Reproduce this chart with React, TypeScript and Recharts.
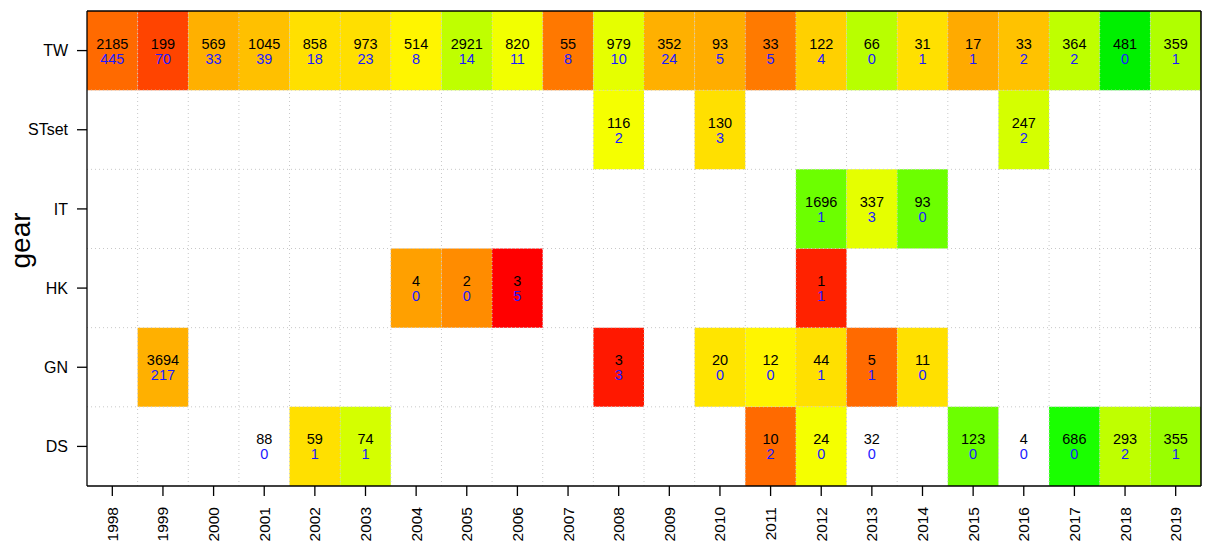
import React from 'react';
import {
  ScatterChart,
  Scatter,
  XAxis,
  YAxis,
  ReferenceArea,
  ReferenceLine,
} from 'recharts';

const years = ['1998','1999','2000','2001','2002','2003','2004','2005','2006','2007','2008','2009','2010','2011','2012','2013','2014','2015','2016','2017','2018','2019'];
// bottom to top
const gears = ['DS', 'GN', 'HK', 'IT', 'STset', 'TW'];

const _ = null;

const twTop = [2185,199,569,1045,858,973,514,2921,820,55,979,352,93,33,122,66,31,17,33,364,481,359];
const twBottom = [445,70,33,39,18,23,8,14,11,8,10,24,5,5,4,0,1,1,2,2,0,1];
const twColor = ['#FF6A00','#FF4400','#FFB000','#FFC000','#FFE000','#FFDF00','#FFF500','#BFFF00','#F2FF00','#FF7800','#E5FF00','#FFB000','#FFAD00','#FF7A00','#FFD000','#B8FF00','#FFE000','#FFAA00','#FFC200','#BFFF00','#00F000','#B0FF00'];

const stTop = [_,_,_,_,_,_,_,_,_,_,116,_,130,_,_,_,_,_,247,_,_,_];
const stBottom = [_,_,_,_,_,_,_,_,_,_,2,_,3,_,_,_,_,_,2,_,_,_];
const stColor = [_,_,_,_,_,_,_,_,_,_,'#F5FF00',_,'#FFE000',_,_,_,_,_,'#D4FF00',_,_,_];

const itTop = [_,_,_,_,_,_,_,_,_,_,_,_,_,_,1696,337,93,_,_,_,_,_];
const itBottom = [_,_,_,_,_,_,_,_,_,_,_,_,_,_,1,3,0,_,_,_,_,_];
const itColor = [_,_,_,_,_,_,_,_,_,_,_,_,_,_,'#6CFF00','#E5FF00','#6CFF00',_,_,_,_,_];

const hkTop = [_,_,_,_,_,_,4,2,3,_,_,_,_,_,1,_,_,_,_,_,_,_];
const hkBottom = [_,_,_,_,_,_,0,0,5,_,_,_,_,_,1,_,_,_,_,_,_,_];
const hkColor = [_,_,_,_,_,_,'#FFA000','#FF8C00','#FF0000',_,_,_,_,_,'#FF2200',_,_,_,_,_,_,_];

const gnTop = [_,3694,_,_,_,_,_,_,_,_,3,_,20,12,44,5,11,_,_,_,_,_];
const gnBottom = [_,217,_,_,_,_,_,_,_,_,3,_,0,0,1,1,0,_,_,_,_,_];
const gnColor = [_,'#FFB000',_,_,_,_,_,_,_,_,'#FF1800',_,'#FFE500','#FFF500','#FFE000','#FF6A00','#FFE000',_,_,_,_,_];

const dsTop = [_,_,_,88,59,74,_,_,_,_,_,_,_,10,24,32,_,123,4,686,293,355];
const dsBottom = [_,_,_,0,1,1,_,_,_,_,_,_,_,2,0,0,_,0,0,0,2,1];
const dsColor = [_,_,_,_,'#FFE000','#D4FF00',_,_,_,_,_,_,_,'#FF6A00','#F5FF00',_,_,'#6CFF00',_,'#1AFF00','#BFFF00','#99FF00'];

const rows = [
  { top: dsTop, bottom: dsBottom, color: dsColor },
  { top: gnTop, bottom: gnBottom, color: gnColor },
  { top: hkTop, bottom: hkBottom, color: hkColor },
  { top: itTop, bottom: itBottom, color: itColor },
  { top: stTop, bottom: stBottom, color: stColor },
  { top: twTop, bottom: twBottom, color: twColor },
];

type Cell = { x: number; y: number; top: number; bottom: number; color: string | null };
const cells: Cell[] = [];
rows.forEach((r, gi) => {
  r.top.forEach((t, yi) => {
    if (t !== null) {
      cells.push({ x: yi + 1, y: gi + 1, top: t as number, bottom: r.bottom[yi] as number, color: r.color[yi] as string | null });
    }
  });
});

const FONT = '"Liberation Sans", Arial, Helvetica, sans-serif';
const xTicks = years.map((_y, i) => i + 1);
const yTicks = gears.map((_g, i) => i + 1);
const vGrid = years.slice(1).map((_y, i) => i + 1.5);
const hGrid = gears.slice(1).map((_g, i) => i + 1.5);

const XTick = (props: any) => {
  const { x, y, payload } = props;
  return (
    <text
      x={x}
      y={y + 1}
      transform={`rotate(-90 ${x} ${y + 1})`}
      textAnchor="end"
      dominantBaseline="central"
      fontSize={15.5}
      fontFamily={FONT}
      fill="#000"
    >
      {years[payload.value - 1]}
    </text>
  );
};

const CellText = (props: any) => {
  const { cx, cy, payload } = props;
  return (
    <g>
      <text x={cx} y={cy - 7} textAnchor="middle" dominantBaseline="central" fontSize={14.5} fontFamily={FONT} fill="#000">
        {payload.top}
      </text>
      <text x={cx} y={cy + 8} textAnchor="middle" dominantBaseline="central" fontSize={14.5} fontFamily={FONT} fill="#1a1aff">
        {payload.bottom}
      </text>
    </g>
  );
};

const YLabel = (props: any) => {
  const vb = props.viewBox || {};
  const cy = (vb.y ?? 0) + (vb.height ?? 0) / 2 - 8;
  const x = 20;
  return (
    <text
      x={x}
      y={cy}
      transform={`rotate(-90 ${x} ${cy})`}
      textAnchor="middle"
      dominantBaseline="central"
      fontSize={28}
      fontFamily={FONT}
      fill="#000"
    >
      gear
    </text>
  );
};

export default function App() {
  return (
    <div style={{ position: 'absolute', left: 0, top: 0, width: 1207, height: 547, background: '#fff' }}>
      <ScatterChart width={1207} height={547} margin={{ top: 11, right: 6, left: 8, bottom: 0 }}>
        <XAxis
          type="number"
          dataKey="x"
          domain={[0.5, 22.5]}
          ticks={xTicks}
          interval={0}
          allowDataOverflow
          height={61}
          tickSize={10}
          tickMargin={10}
          tick={<XTick />}
          axisLine={{ stroke: '#000', strokeWidth: 1.3 }}
          tickLine={{ stroke: '#000', strokeWidth: 1.3 }}
        />
        <YAxis
          type="number"
          dataKey="y"
          domain={[0.5, 6.5]}
          ticks={yTicks}
          interval={0}
          allowDataOverflow
          width={79}
          tickSize={10}
          tickMargin={9}
          tickFormatter={(v: number) => gears[v - 1]}
          tick={{ fontSize: 16, fontFamily: FONT, fill: '#000' }}
          axisLine={{ stroke: '#000', strokeWidth: 1.3 }}
          tickLine={{ stroke: '#000', strokeWidth: 1.3 }}
          label={<YLabel />}
        />
        {cells.filter((c) => c.color).map((c, i) => (
          <ReferenceArea
            key={'a' + i}
            x1={c.x - 0.5}
            x2={c.x + 0.5}
            y1={c.y - 0.5}
            y2={c.y + 0.5}
            fill={c.color as string}
            fillOpacity={1}
            stroke="none"
          />
        ))}
        {vGrid.map((v) => (
          <ReferenceLine key={'v' + v} x={v} stroke="#c8c8c8" strokeDasharray="1 3" strokeWidth={1} />
        ))}
        {hGrid.map((v) => (
          <ReferenceLine key={'h' + v} y={v} stroke="#c8c8c8" strokeDasharray="1 3" strokeWidth={1} />
        ))}
        <ReferenceLine y={6.5} stroke="#000" strokeWidth={1.5} />
        <ReferenceLine x={22.5} stroke="#000" strokeWidth={1.5} />
        <Scatter data={cells} isAnimationActive={false} shape={<CellText />} />
      </ScatterChart>
    </div>
  );
}
